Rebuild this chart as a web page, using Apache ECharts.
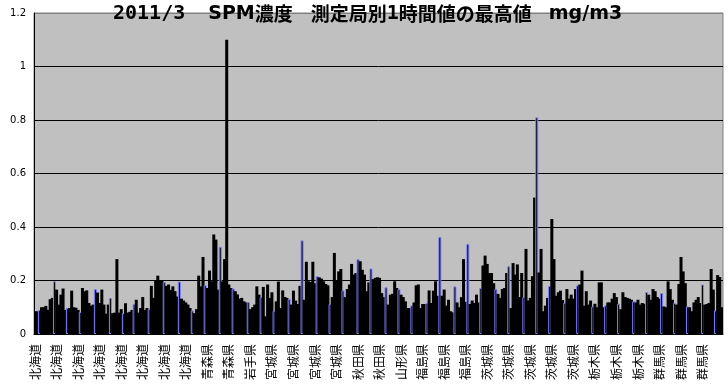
<!DOCTYPE html>
<html><head><meta charset="utf-8">
<script src="https://cdn.jsdelivr.net/npm/echarts@6/dist/echarts.min.js"></script>
<style>html,body{margin:0;padding:0;background:#fff}#c{width:728px;height:391px}</style>
</head><body><div id="c"></div>
<script>
// Prefectures and number of monitoring stations (categories) per prefecture
const prefNames  = ['北海道', '青森県', '岩手県', '宮城県', '秋田県', '山形県', '福島県', '茨城県', '栃木県', '群馬県'];
const prefCounts = [80, 20, 10, 40, 20, 10, 30, 50, 30, 30];

// Max 1-hour SPM value per station (mg/m3)
const valuesHokkaidoAomori = [
  .085, .085, .09, .1, .1, .105, .09, .13, .135, .197,
  .166, .11, .147, .17, .09, .097, .097, .162, .1, .098,
  .09, .082, .172, .16, .163, .116, .106, .11, .168, .155,
  .116, .166, .11, .076, .11, .135, .078, .08, .28, .08,
  .093, .078, .115, .08, .083, .09, .112, .128, .08, .097,
  .138, .09, .097, .093, .18, .135, .2, .218, .2, .2,
  .195, .18, .185, .165, .178, .16, .14, .196, .132, .125,
  .118, .11, .097, .088, .078, .093, .218, .178, .288, .183,
  .172, .237, .197, .372, .353, .166, .326, .197, .28, 1.1,
  .185, .172, .17, .16, .148, .132, .135, .122, .118, .12
];
const valuesIwateFukushima = [
  .093, .1, .11, .178, .147, .138, .176, .066, .185, .135,
  .156, .087, .122, .196, .097, .163, .138, .135, .131, .11,
  .162, .125, .112, .18, .35, .128, .27, .197, .195, .27,
  .19, .216, .212, .207, .197, .187, .182, .112, .138, .303,
  .2, .234, .243, .163, .138, .168, .185, .262, .222, .228,
  .28, .272, .24, .222, .16, .193, .245, .205, .21, .212,
  .21, .153, .138, .175, .11, .147, .15, .197, .172, .168,
  .147, .138, .122, .097, .097, .107, .118, .182, .185, .097,
  .112, .112, .116, .163, .116, .162, .197, .143, .363, .143,
  .166, .106, .128, .085, .081, .178, .118, .1, .138, .28,
  .12, .337, .112, .125, .116, .147, .118, .172, .256, .293,
  .262, .228
];
const valuesIbarakiGunma = [
  .228, .19, .168, .15, .135, .168, .172, .228,
  .253, .097, .265, .222, .26, .138, .228, .138, .318, .125,
  .135, .216, .51, .81, .23, .318, .085, .106, .135, .18,
  .43, .28, .143, .156, .162, .127, .116, .168, .132, .147,
  .132, .168, .182, .185, .237, .106, .16, .11, .125, .103,
  .113, .1, .193, .193, .1, .107, .118, .118, .132, .153,
  .138, .113, .093, .156, .138, .135, .132, .128, .122, .118,
  .128, .11, .116, .113, .157, .147, .128, .168, .16, .138,
  .132, .153, .103, .1, .197, .168, .128, .116, .11, .187,
  .288, .234, .19, .103, .1, .085, .118, .128, .138, .116,
  .185, .11, .112, .116, .243, .166, .088, .22, .213, .1
];
// Stations drawn with a blue outline
const outlinedIdx = [2, 9, 15, 21, 28, 35, 41, 46, 53, 60, 67, 73, 79, 86, 92, 99,
  105, 111, 118, 124, 131, 137, 143, 150, 156, 163, 169, 175, 182, 188, 195, 201, 207,
  214, 220, 227, 233, 239, 246, 252, 259, 265, 271, 278, 284, 291, 297, 303, 310, 316];

const categories = [];
prefNames.forEach((n, i) => { for (let k = 0; k < prefCounts[i]; k++) categories.push(n); });
const values = valuesHokkaidoAomori.concat(valuesIwateFukushima, valuesIbarakiGunma);
const outlined = new Set(outlinedIdx);
const barData = values.map((v, i) => outlined.has(i)
  ? { value: v, itemStyle: { color: '#000', borderColor: '#8080ff', borderWidth: 1 } }
  : v);

const chart = echarts.init(document.getElementById('c'), null, { renderer: 'canvas' });
chart.setOption({
  animation: false,
  backgroundColor: '#fff',
  title: {
    text: '{a|2011/3}{s1|　}{b|SPM}{k|濃度}{s2|　}{k|測定局別}{a|1}{k|時間値の最高値}{s3|　}{b|mg/m3}',
    left: 113, top: 4, padding: 0,
    textStyle: {
      rich: {
        a: { fontFamily: 'DejaVu Sans Mono', fontWeight: 'bold', fontSize: 20, color: '#000' },
        b: { fontFamily: 'DejaVu Sans', fontWeight: 'bold', fontSize: 19, color: '#000' },
        k: { fontFamily: 'Noto Sans CJK JP', fontWeight: 'bold', fontSize: 19, color: '#000' },
        s1: { width: 23, fontSize: 19 },
        s2: { width: 18, fontSize: 19 },
        s3: { width: 17, fontSize: 19 }
      }
    }
  },
  grid: { left: 34, right: 5, top: 13, bottom: 57, show: true, backgroundColor: '#c0c0c0', borderColor: '#808080', borderWidth: 1 },
  xAxis: {
    type: 'category', data: categories,
    axisLine: { show: true, lineStyle: { color: '#000', width: 1 } },
    axisTick: { show: false },
    axisLabel: { interval: 9, rotate: 90, margin: 10, fontFamily: 'Noto Sans CJK JP', fontSize: 12, color: '#000' }
  },
  yAxis: {
    type: 'value', min: 0, max: 1.2, interval: 0.2,
    axisLine: { show: true, lineStyle: { color: '#000', width: 1 } },
    axisTick: { show: false },
    axisLabel: { fontFamily: 'DejaVu Sans', fontSize: 10, color: '#000', margin: 8 },
    splitLine: { show: true, lineStyle: { color: ['#000', '#000', '#000', '#000', '#000', '#000', '#808080'], width: 1 } }
  },
  series: [{
    type: 'bar', data: barData, barWidth: 3,
    itemStyle: { color: '#000' }
  }]
});
</script>
</body></html>
